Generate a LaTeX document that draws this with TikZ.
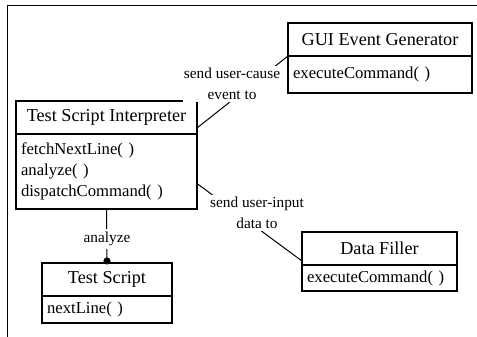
\documentclass[tikz,border=0pt]{standalone}
\usepackage{fontspec}
\setmainfont{Liberation Serif}
\begin{document}
\begin{tikzpicture}[x=1pt,y=-1pt,
  cls/.style={draw, fill=white, line width=1.1pt, inner sep=0pt, outer sep=0pt, anchor=north west},
  ttl/.style={cls, font=\fontsize{18.2}{21}\selectfont, minimum height=33pt},
  mth/.style={cls, font=\fontsize{16.7}{21}\selectfont, align=left, inner xsep=5pt},
  lbl/.style={fill=white, inner xsep=1pt, inner ysep=2pt, font=\fontsize{15.3}{21}\selectfont, align=center},
  conn/.style={line width=1pt},
  frame/.style={line width=1pt}]
\useasboundingbox (0,0) rectangle (477,337);
\draw[frame] (477,6) -- (7,6) -- (7,337);
% GUI Event Generator
\node[ttl, minimum width=184pt] (guit) at (288,23) {GUI Event Generator};
\node[mth, text width=174pt, minimum height=37pt] (guim) at (guit.south west) {executeCommand( )};
% Test Script Interpreter
\node[ttl, minimum width=181pt] (tsit) at (16,101) {Test Script Interpreter};
\node[mth, text width=171pt, minimum height=75pt] (tsim) at (tsit.south west) {fetchNextLine( )\\analyze( )\\dispatchCommand( )};
% Test Script
\node[ttl, minimum width=130pt] (tst) at (42,263) {Test Script};
\node[mth, text width=120pt, minimum height=27pt] (tsm) at (tst.south west) {nextLine( )};
% Data Filler
\node[ttl, minimum width=155pt] (dft) at (302,232) {Data Filler};
\node[mth, text width=145pt, minimum height=26pt] (dfm) at (dft.south west) {executeCommand( )};
% connectors
\draw[conn] ([yshift=6pt]tsit.south east) -- (guit.south west);
\draw[conn] ([yshift=-12pt]tsim.east) -- ([yshift=4pt]dft.south west);
\draw[conn] (tsim.south) -- (tst.north);
\fill ([yshift=2pt]tst.north) circle[radius=3.6pt];
% labels
\node[lbl] (l1) at (232,84) {send user-cause\\event to};
\node[lbl] (l2) at (257,213) {send user-input\\data to};
\node[lbl, inner ysep=3pt] (l3) at (107,239) {analyze};
\end{tikzpicture}
\end{document}
